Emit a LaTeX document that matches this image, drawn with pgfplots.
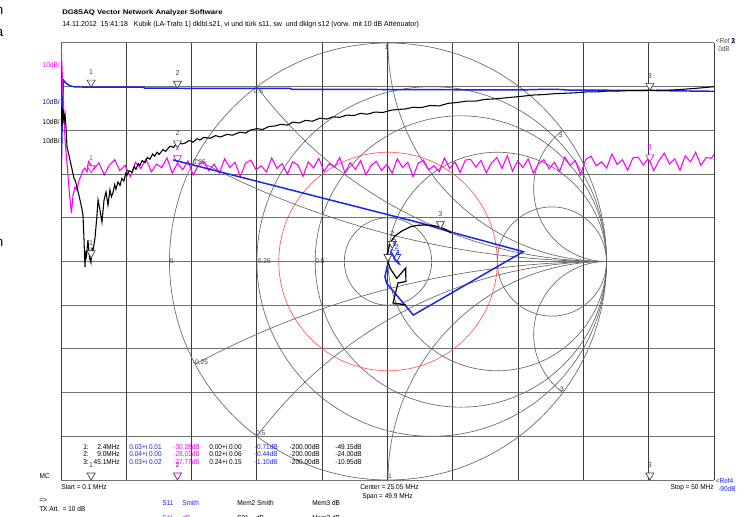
\documentclass[border=0pt]{standalone}
\usepackage{pgfplots}
\pgfplotsset{compat=1.18}
\usepackage{fontspec}
\setmainfont{Liberation Sans}
\definecolor{vblue}{RGB}{25,35,235}
\definecolor{vmag}{RGB}{250,0,250}
\definecolor{gv}{RGB}{60,60,60}
\definecolor{gh}{RGB}{115,115,115}
\definecolor{sg}{RGB}{105,105,105}
\newcommand{\sm}{\fontsize{5.3}{6}\selectfont}
\newcommand{\nx}[1]{\scalebox{0.92}[1]{#1}}
\pgfplotsset{
  mk/.style={only marks, mark=triangle*, mark size=3.5pt,
    mark options={yshift=3.5pt, rotate=180, fill=white, draw=#1, line width=0.5pt},
    nodes near coords, point meta=explicit symbolic,
    every node near coord/.style={font=\sm, text=#1, anchor=south, yshift=5.2pt, inner sep=0.3pt}},
}
\begin{document}
\begin{tikzpicture}[x=0.75pt,y=-0.75pt]
\useasboundingbox (0,0) rectangle (744,517);
\fill[white] (0,0) rectangle (744,517);
% rectangular grid
\foreach \k in {0,...,10} {
  \draw[gh, line width=0.75pt] (61,{43+43.7*\k}) -- (714,{43+43.7*\k});
}
\foreach \k in {0,...,10} {
  \draw[gv, line width=0.75pt] ({61+65.3*\k},43) -- ({61+65.3*\k},480);
}
% Smith chart grid
\begin{scope}[shift={(388,261.5)}, x=163.875pt, y=163.875pt]
  \draw[sg, line width=0.5pt] (0,0) circle[radius=1];
  \foreach \r in {0.25,0.5,1,3} {
    \draw[sg, line width=0.5pt] ({\r/(1+\r)},0) circle[radius={1/(1+\r)}];
  }
  \draw[sg, line width=0.5pt] (0,0) circle[radius=0.2];
  \draw[red!65, line width=0.5pt] (0,0) circle[radius=0.5];
  \begin{scope}
    \clip (0,0) circle[radius=1];
    \foreach \xx in {0.25,0.5,1,3,-0.25,-0.5,-1,-3} {
      \draw[sg, line width=0.5pt] (1,{1/\xx}) circle[radius={1/abs(\xx)}];
    }
  \end{scope}
\end{scope}
% Smith labels
\begin{scope}[every node/.style={font=\fontsize{5}{5}\selectfont, text=black!75, inner sep=0.4pt}]
\node[anchor=north west] at (384,44) {1};
\node[anchor=north west] at (253,88) {0.5};
\node[anchor=north west] at (192,159) {0.25};
\node[anchor=north west] at (558,132) {3};
\node[anchor=south west] at (192,365) {-0.25};
\node[anchor=south west] at (253,436) {-0.5};
\node[anchor=south west] at (385,479) {-1};
\node[anchor=south west] at (557,392) {-3};
\node[anchor=west] at (169,261.5) {0};
\node[anchor=west] at (257,261.5) {0.25};
\node[anchor=west] at (314.5,261.5) {0.5};
\end{scope}

% ---------- rectangular (dB) traces ----------
\begin{axis}[at={(45.75pt,-360pt)}, anchor=south west,
  width=489.75pt, height=327.75pt, scale only axis,
  xmin=0.1, xmax=50, ymin=-100, ymax=0, hide axis]
% S21 dB (blue)
\addplot[vblue, line width=1.1pt] coordinates {
(0.1,-32.0) (0.18,-19.9) (0.28,-8.5) (0.48,-9.2) (0.79,-9.8) (1.17,-10.05)
(2.4,-10.1) (4,-10.08) (6.37,-10.1) (6.52,-10.35) (9.0,-10.35) (12,-10.4)
(17.6,-10.4) (17.75,-10.6) (22,-10.6) (25,-10.65) (30,-10.7) (35.2,-10.75)
(37,-10.6) (38,-10.6) (39,-10.8) (41.3,-10.8) (45.1,-10.85) (47,-10.95) (50,-11.05)};
% S11 dB (magenta)
\addplot[vmag, line width=0.8pt] coordinates {
(0.1,0) (0.25,-10.8) (0.41,-22.2) (0.56,-27.5) (0.75,-34.8) (0.90,-38.9)
(1.02,-34.8) (1.17,-33.0) (1.32,-33.6) (1.48,-31.4) (1.63,-30.4) (1.78,-29.1)
(1.93,-28.6) (2.09,-29.5)
(2.2,-27.1) (2.6,-28.9) (3.0,-27.4) (3.4,-30.2) (3.8,-27.9) (4.2,-26.7) (4.6,-29.2)
(5.0,-28.0) (5.4,-30.6) (5.8,-27.3) (6.2,-28.7) (6.6,-26.5) (7.0,-29.5) (7.4,-27.7)
(7.8,-28.5) (8.2,-26.3) (8.6,-29.8) (9.0,-27.5) (9.4,-29.0) (9.8,-27.0) (10.2,-30.2)
(10.6,-28.0) (11.0,-27.1) (11.4,-29.2) (11.8,-27.7) (12.2,-29.8) (12.6,-26.5)
(13.0,-28.5) (13.4,-27.3) (13.8,-30.6) (14.2,-27.5) (14.6,-26.8) (15.0,-29.0)
(15.4,-28.1) (15.8,-29.5) (16.2,-26.3) (16.6,-28.7) (17.0,-27.6) (17.4,-30.0)
(17.8,-27.2) (18.2,-27.9) (18.6,-30.5) (19.0,-27.2) (19.4,-28.6) (19.8,-26.4)
(20.2,-29.4) (20.6,-27.6) (21.0,-28.4) (21.4,-26.2) (21.8,-29.7) (22.2,-27.4)
(22.6,-28.9) (23.0,-26.9) (23.4,-30.2) (23.8,-28.0) (24.2,-27.1) (24.6,-29.2)
(25.0,-27.7) (25.4,-29.8) (25.8,-26.5) (26.2,-28.5) (26.6,-27.3) (27.0,-30.6)
(27.4,-27.5) (27.8,-26.8) (28.2,-29.0) (28.6,-28.1) (29.0,-29.5) (29.4,-26.3)
(29.8,-28.7) (30.2,-27.2) (30.6,-29.6) (31.0,-26.8) (31.4,-26.6) (31.8,-28.4)
(32.2,-26.9) (32.6,-29.7) (33.0,-27.4) (33.4,-26.2) (33.8,-28.7) (34.2,-25.8)
(34.6,-29.3) (35.0,-27.0) (35.4,-28.5) (35.8,-26.5) (36.2,-29.8) (36.6,-27.6)
(37.0,-26.7) (37.4,-28.8) (37.8,-27.3) (38.2,-29.4) (38.6,-26.1) (39.0,-28.1)
(39.4,-26.9) (39.8,-30.2) (40.2,-26.6) (40.6,-25.9) (41.0,-28.1) (41.4,-27.2)
(41.8,-28.6) (42.2,-25.4) (42.6,-27.8) (43.0,-26.7) (43.4,-29.1) (43.8,-26.3)
(44.2,-26.1) (44.6,-27.9) (45.0,-26.4) (45.4,-29.2) (45.8,-26.9) (46.2,-25.2)
(46.6,-27.7) (47.0,-26.5) (47.4,-29.1) (47.8,-25.8) (48.2,-27.2) (48.6,-25.0)
(49.0,-28.0) (49.4,-26.2) (49.8,-26.4) (50.0,-25.5)};
% Mem3 dB (black)
\addplot[black, line width=0.8pt] coordinates {
(0.1,-19.0) (0.15,-14.6) (0.21,-18.6) (0.27,-15.3) (0.34,-17.8) (0.41,-16.4)
(0.5,-20.0) (0.56,-23.8) (0.7,-25.6) (0.79,-26.8) (0.95,-29.0) (1.09,-30.9)
(1.2,-31.6) (1.32,-33.0) (1.45,-34.6) (1.55,-35.9) (1.7,-38.0) (1.78,-39.4)
(1.86,-45.1) (1.93,-51.3) (2.0,-47.5) (2.05,-48.6) (2.16,-45.1) (2.28,-49.2)
(2.39,-50.3) (2.47,-47.0) (2.55,-47.4) (2.70,-44.6) (2.85,-39.4) (2.93,-35.9)
(3.08,-38.2) (3.23,-41.0) (3.39,-35.9) (3.54,-34.1) (3.69,-37.1) (3.84,-33.6)
(3.95,-35.2) (4.07,-34.3) (4.2,-32.4) (4.30,-33.5) (4.45,-31.8) (4.61,-32.6)
(4.75,-31.0) (4.91,-31.6) (5.05,-29.8) (5.14,-30.3) (5.3,-29.2) (5.53,-29.6)
(5.7,-28.3) (5.83,-28.9) (6.0,-27.6) (6.14,-28.0) (6.3,-26.9) (6.52,-27.4)
(6.7,-26.2) (6.90,-26.6) (7.1,-25.4) (7.25,-25.9) (7.44,-25.0) (7.6,-25.5)
(7.89,-24.4) (8.1,-24.8) (8.43,-23.6) (8.7,-23.9) (9.04,-22.6) (9.3,-23.1)
(9.58,-22.9) (9.9,-22.3) (10.19,-22.7) (10.5,-21.9) (10.72,-22.2) (11.0,-21.6)
(11.49,-21.8) (11.9,-21.2) (12.3,-21.5) (12.79,-20.9) (13.2,-21.1) (13.78,-20.4)
(14.2,-20.6) (14.6,-19.9) (15.08,-19.6) (15.5,-19.8) (16.0,-19.1) (16.45,-19.0)
(16.9,-18.6) (17.4,-18.8) (17.83,-18.1) (18.3,-18.3) (18.8,-17.7) (19.3,-17.9)
(19.89,-17.2) (20.4,-17.4) (20.9,-16.9) (21.4,-17.0) (21.96,-16.5) (22.5,-16.6)
(23.0,-16.1) (23.5,-16.3) (24.1,-15.8) (24.7,-15.9) (25.3,-15.4) (25.9,-15.2)
(26.4,-15.1) (27.0,-14.7) (27.6,-14.8) (28.3,-14.3) (29.0,-14.4) (29.7,-13.8)
(30.4,-13.6) (31.1,-13.3) (31.8,-13.3) (32.5,-12.9) (33.2,-12.8) (33.9,-12.6)
(34.6,-12.4) (35.3,-12.2) (36.2,-11.9) (37.0,-11.8) (37.8,-11.6) (38.6,-11.5)
(39.4,-11.4) (40.2,-11.2) (41.0,-11.2) (41.8,-11.0) (42.6,-11.0) (43.4,-10.9)
(44.2,-10.9) (45.1,-10.85) (45.9,-10.8) (46.8,-10.75) (47.6,-10.6) (48.5,-10.4)
(49.3,-10.2) (50.0,-10.0)};
% markers
\addplot[mk=black!75] coordinates {(2.4,-10.1) [1] (9.0,-10.35) [2] (45.1,-10.85) [3]};
\addplot[mk=vmag] coordinates {(2.4,-29.7) [1] (9.0,-27.4) [2] (45.1,-27.2) [3]};
\addplot[mk=black!75] coordinates {(2.4,-49.15) [1] (9.0,-24.0) [2]};
\addplot[mk=black!75] coordinates {(2.4,-100) [1] (45.1,-100) [3]};
\addplot[mk=vmag!60!black] coordinates {(9.0,-100) [2]};
\end{axis}

% ---------- Smith traces ----------
\begin{axis}[at={(45.75pt,-360pt)}, anchor=south west,
  width=489.75pt, height=327.75pt, scale only axis,
  xmin=-1.4966, xmax=1.4920, ymin=-1, ymax=1, hide axis, clip=false]
\addplot[vblue, line width=1.1pt] coordinates {
(-0.984,0.465) (0.154,0.175) (0.284,0.136) (0.619,0.045) (0.116,-0.245)
(-0.006,-0.100) (-0.014,-0.070) (0.001,-0.001) (0.018,0.053) (0.037,0.043)
(0.027,0.016) (0.046,-0.002) (0.030,0.025) (0.030,0.020) (0.040,0.000) (0.030,0.010)};
\addplot[black, line width=0.9pt] coordinates {
(0.082,-0.199) (0.023,-0.190) (0.046,-0.098) (0.082,-0.092) (0.081,-0.030)
(0.040,-0.077) (0.009,-0.030) (0.000,0.000) (-0.005,0.030) (0.009,0.085)
(0.032,0.117) (0.064,0.140) (0.101,0.158) (0.130,0.165) (0.162,0.167)
(0.200,0.166) (0.238,0.158) (0.265,0.146) (0.290,0.132)};
\addplot[mk=black!75] coordinates {(0,0) [1] (0.02,0.06) [2] (0.24,0.15) [3]};
\addplot[mk=vblue] coordinates {(0.03,0.01) [1] (0.04,0.0) [2] (0.03,0.02) [3]};
\end{axis}

% ---------- texts ----------
\node[anchor=base west, inner sep=0] at (62,14.5) {\scalebox{1.16}[1]{\fontsize{5}{6}\selectfont\bfseries DG8SAQ Vector Network Analyzer Software}};
\node[anchor=base west, inner sep=0] at (62,27) {\scalebox{0.956}[1]{\fontsize{5.5}{6}\selectfont 14.11.2012\ \ 15:41:18\ \ \ Kubik (LA-Trafo 1) dklbl.s21, vi und türk s11, sw\ \ und dklgn s12 (vorw. mit 10 dB Attenuator)}};
% partial letters at left edge
\node[anchor=base east, inner sep=0, font=\fontsize{10}{10}\selectfont] at (3.5,15) {n};
\node[anchor=base east, inner sep=0, font=\fontsize{10}{10}\selectfont] at (3.5,37) {a};
\node[anchor=base east, inner sep=0, font=\fontsize{10}{10}\selectfont] at (3.5,247) {n};
% left scale labels
\begin{scope}[every node/.style={anchor=base east, inner sep=0, font=\sm}]
\node[text=vmag] at (60,68) {\nx{10dB/}};
\node[text=vblue!70!black] at (60,105) {\nx{10dB/}};
\node at (60,125) {\nx{10dB/}};
\node at (60,144) {\nx{10dB/}};
\node at (50,478.5) {\nx{MC}};
\end{scope}
% right ref labels
\begin{scope}[every node/.style={anchor=base west, inner sep=0, font=\sm}]
\node[text=black!70] at (715.5,44) {\nx{<Ref}};
\node[text=vmag] at (731,44) {\nx{1}};
\node[text=vblue] at (731,44) {\nx{2}};
\node[text=black] at (731,44) {\nx{3}};
\node[text=black!70] at (718,51.5) {\nx{0dB}};
\node[text=vblue] at (715.5,483) {\nx{<Ref4}};
\node[text=vblue] at (718,491.5) {\nx{-90dB}};
\end{scope}
% marker table
\begin{scope}[every node/.style={inner sep=0, font=\sm}]
\foreach \yy/\n/\f/\a/\b/\c/\d/\e/\g in {
 449/1/2.4MHz/0.03+i 0.01/-30.28dB/0.00+i 0.00/-0.71dB/-200.00dB/-49.15dB,
 456.8/2/9.0MHz/0.04+i 0.00/-28.01dB/0.02+i 0.06/-0.44dB/-200.00dB/-24.00dB,
 464.6/3/45.1MHz/0.03+i 0.02/-27.77dB/0.24+i 0.15/-1.10dB/-200.00dB/-10.95dB} {
  \node[anchor=base west] at (83,\yy) {\nx{\n:}};
  \node[anchor=base east] at (120,\yy) {\nx{\f}};
  \node[anchor=base east, text=vblue] at (162,\yy) {\nx{\a}};
  \node[anchor=base east, text=vmag] at (200,\yy) {\nx{\b}};
  \node[anchor=base east] at (242,\yy) {\nx{\c}};
  \node[anchor=base east, text=vblue] at (278,\yy) {\nx{\d}};
  \node[anchor=base east] at (320,\yy) {\nx{\e}};
  \node[anchor=base east] at (362,\yy) {\nx{\g}};
}
\end{scope}
% bottom texts
\begin{scope}[every node/.style={inner sep=0, font=\sm}]
\node[anchor=base west] at (61,489.5) {\nx{Start = 0.1 MHz}};
\node[anchor=base west] at (360,489.5) {\nx{Center = 25.05 MHz}};
\node[anchor=base west] at (362,498.5) {\nx{Span = 49.9 MHz}};
\node[anchor=base east] at (714,489.5) {\nx{Stop = 50 MHz}};
\node[anchor=base west] at (39,502) {\nx{=>}};
\node[anchor=base west] at (39,511) {\nx{TX Att.\ \ = 10 dB}};
\node[anchor=base west, text=vblue] at (162,505.5) {\nx{S11}};
\node[anchor=base west, text=vblue] at (182,505.5) {\nx{Smith}};
\node[anchor=base west] at (237,505.5) {\nx{Mem2 Smith}};
\node[anchor=base west] at (312,505.5) {\nx{Mem3 dB}};
\node[anchor=base west, text=vmag] at (162,520) {\nx{S11}};
\node[anchor=base west, text=vmag] at (182,520) {\nx{dB}};
\node[anchor=base west] at (237,520) {\nx{S21\ \ \ \ dB}};
\node[anchor=base west] at (312,520) {\nx{Mem3 dB}};
\end{scope}
\end{tikzpicture}
\end{document}
